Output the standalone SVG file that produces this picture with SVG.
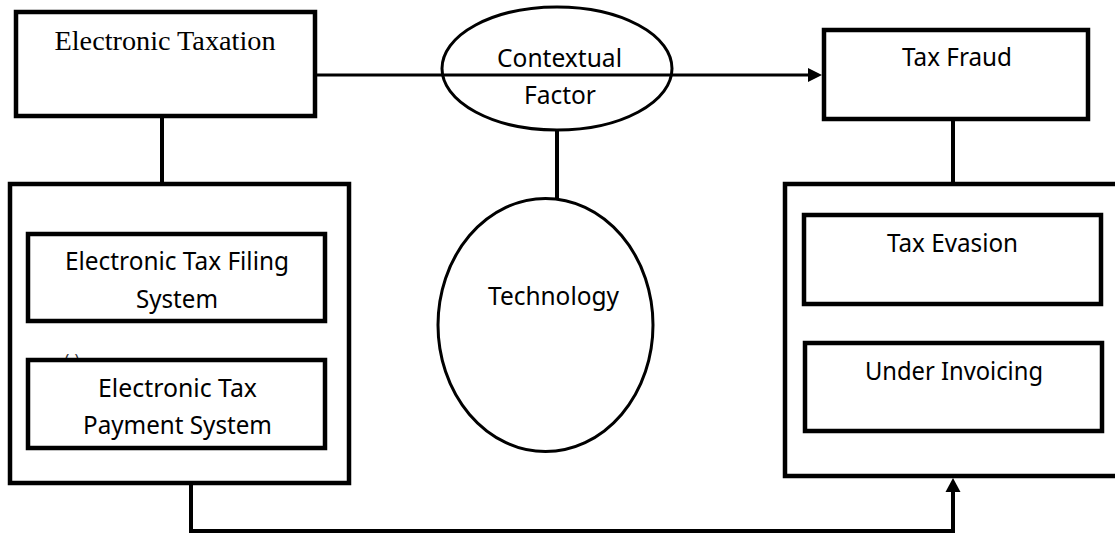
<svg xmlns="http://www.w3.org/2000/svg" width="1115" height="536" viewBox="0 0 1115 536">
  <style>
    .box { fill: #ffffff; stroke: #000000; stroke-width: 4.5; }
    .frame { fill: none; stroke: #000000; stroke-width: 4.5; }
    .oval { fill: #ffffff; stroke: #000000; stroke-width: 3; }
    .line { fill: none; stroke: #000000; stroke-width: 4; }
    .thin { fill: none; stroke: #000000; stroke-width: 3; }
    .sans { font-family: "Noto Sans", "Open Sans", sans-serif; font-size: 24.5px; fill: #000000; text-anchor: middle; }
    .serif { font-family: "Liberation Serif", "Times New Roman", serif; font-size: 28px; fill: #000000; text-anchor: middle; }
  </style>
  <rect width="1115" height="536" fill="#ffffff"/>

  <g id="connectors">
    <line class="thin" x1="313" y1="75" x2="810" y2="75"/>
    <polygon points="822,75 808,68 808,82" fill="#000000"/>
    <line class="line" x1="162" y1="117" x2="162" y2="183"/>
    <line class="line" x1="557" y1="129" x2="557" y2="199"/>
    <line class="line" x1="953" y1="119" x2="953" y2="183"/>
    <path class="line" d="M191 484 V531 H953 V490"/>
    <polygon points="953,478 945.5,492 960.5,492" fill="#000000"/>
  </g>

  <g id="electronic-taxation">
    <rect class="box" x="16" y="12" width="299" height="104"/>
    <text class="serif" x="165" y="50" textLength="221" lengthAdjust="spacingAndGlyphs">Electronic Taxation</text>
  </g>

  <g id="contextual-factor">
    <ellipse class="oval" cx="557" cy="68.5" rx="115" ry="61.5"/>
    <line class="thin" x1="442" y1="75" x2="672" y2="75"/>
    <text class="sans" x="559.5" y="67" textLength="125" lengthAdjust="spacingAndGlyphs">Contextual</text>
    <text class="sans" x="560" y="104" textLength="72" lengthAdjust="spacingAndGlyphs">Factor</text>
  </g>

  <g id="tax-fraud">
    <rect class="box" x="824" y="30" width="264" height="89"/>
    <text class="sans" x="957" y="66" textLength="110" lengthAdjust="spacingAndGlyphs">Tax Fraud</text>
  </g>

  <g id="technology">
    <ellipse class="oval" cx="545.5" cy="325" rx="107.5" ry="126.5"/>
    <text class="sans" x="553.5" y="305" textLength="131" lengthAdjust="spacingAndGlyphs">Technology</text>
  </g>

  <g id="electronic-taxation-group">
    <text x="72" y="366" font-family="Noto Sans, sans-serif" font-size="16" fill="#333333" text-anchor="middle">(-)</text>
    <rect class="frame" x="10" y="184" width="339" height="299"/>
  </g>

  <g id="e-tax-filing">
    <rect class="box" x="28" y="234" width="297" height="87"/>
    <text class="sans" x="177" y="270" textLength="224" lengthAdjust="spacingAndGlyphs">Electronic Tax Filing</text>
    <text class="sans" x="177" y="308" textLength="82" lengthAdjust="spacingAndGlyphs">System</text>
  </g>

  <g id="e-tax-payment">
    <rect class="box" x="28" y="360" width="297" height="88"/>
    <text class="sans" x="177.5" y="397" textLength="159" lengthAdjust="spacingAndGlyphs">Electronic Tax</text>
    <text class="sans" x="177.5" y="434" textLength="189" lengthAdjust="spacingAndGlyphs">Payment System</text>
  </g>

  <g id="tax-fraud-group">
    <rect class="frame" x="785" y="184" width="340" height="292"/>
  </g>

  <g id="tax-evasion">
    <rect class="box" x="804" y="215" width="297" height="89"/>
    <text class="sans" x="952.5" y="252" textLength="131" lengthAdjust="spacingAndGlyphs">Tax Evasion</text>
  </g>

  <g id="under-invoicing">
    <rect class="box" x="805" y="343" width="297" height="88"/>
    <text class="sans" x="954" y="380" textLength="178" lengthAdjust="spacingAndGlyphs">Under Invoicing</text>
  </g>
</svg>
